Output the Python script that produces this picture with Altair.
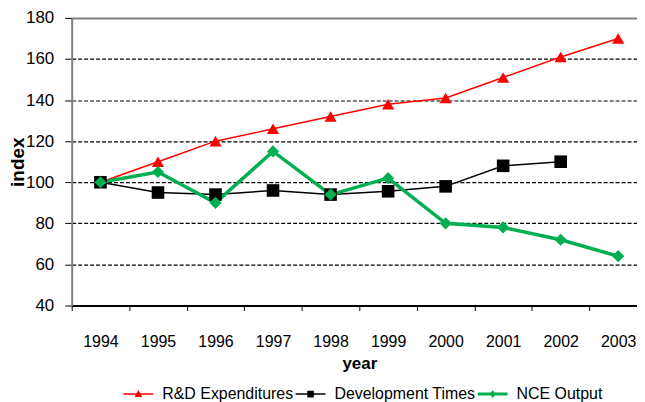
import altair as alt
import pandas as pd

years = [1994, 1995, 1996, 1997, 1998, 1999, 2000, 2001, 2002, 2003]
rd_values = [100, 110, 120, 126, 132, 138, 141, 151, 161, 170]
dev_values = [100, 95, 94, 96, 94, 95.6, 98, 108, 110, None]
nce_values = [100, 105, 90, 115, 94, 102, 80, 78, 72, 64]
series_names = ["R&D Expenditures", "Development Times", "NCE Output"]
series_colors = ["#FF0000", "#000000", "#00B050"]
y_ticks = [40, 60, 80, 100, 120, 140, 160, 180]

rows = []
for name, vals in zip(series_names, [rd_values, dev_values, nce_values]):
    for yr, v in zip(years, vals):
        if v is not None:
            rows.append({"year": yr, "value": v, "series": name})
df = pd.DataFrame(rows)

FONT = "Liberation Sans"

x_enc = alt.X(
    "year:O",
    bandPosition=0.5,
    scale=alt.Scale(type="band", paddingInner=0, paddingOuter=0),
    axis=alt.Axis(
        title="year", titleFontSize=17, titleFontWeight="bold", titleFont=FONT,
        titlePadding=6, labelFont=FONT, labelFontSize=16, labelAngle=0,
        labelPadding=23, tickSize=5, tickColor="black", tickBand="extent",
        domainColor="black", domainWidth=2, grid=False, labelColor="black",
    ),
)
y_enc = alt.Y(
    "value:Q",
    scale=alt.Scale(domain=[40, 180], nice=False, zero=False),
    axis=alt.Axis(
        title="index", titleFontSize=19, titleFontWeight="bold", titleFont=FONT,
        titlePadding=-2, labelFont=FONT, labelFontSize=17, labelPadding=11,
        values=y_ticks, tickSize=7, tickColor="black", domainColor="#808080",
        domainWidth=2, labelColor="black",
        grid=True,
        gridColor={"condition": {"test": "datum.value === 180", "value": "#808080"}, "value": "black"},
        gridDash={"condition": {"test": "datum.value === 180", "value": []}, "value": [4, 2]},
        gridWidth={"condition": {"test": "datum.value === 180", "value": 2}, "value": 1.2},
    ),
)

base = alt.Chart(df)

styles = [
    ("R&D Expenditures", "#FF0000", 1.5, "triangle-up", 150),
    ("Development Times", "#000000", 1.5, "square", 160),
    ("NCE Output", "#00B050", 3.5, "diamond", 150),
]

layers = []
for name, col, sw, shp, sz in styles:
    sub = base.transform_filter(alt.datum.series == name)
    layers.append(sub.mark_line(color=col, strokeWidth=sw).encode(x=x_enc, y=y_enc))
for name, col, sw, shp, sz in styles:
    sub = base.transform_filter(alt.datum.series == name)
    layers.append(sub.mark_point(shape=shp, filled=True, size=sz, color=col, opacity=1).encode(x=x_enc, y=y_enc))

legend_paths = [
    "M-5,-0.25 L5,-0.25 L5,0.25 L-5,0.25 Z M0,-1.4 L1.3,1 L-1.3,1 Z",
    "M-5,-0.25 L5,-0.25 L5,0.25 L-5,0.25 Z M-1.1,-1.1 L1.1,-1.1 L1.1,1.1 L-1.1,1.1 Z",
    "M-5,-0.5 L5,-0.5 L5,0.5 L-5,0.5 Z M0,-1.3 L1.1,0 L0,1.3 L-1.1,0 Z",
]
leg = alt.Legend(
    orient="none", legendX=59, legendY=370, direction="horizontal", title=None,
    labelFont=FONT, labelFontSize=16, labelColor="black", labelLimit=300,
    symbolSize=36, symbolStrokeWidth=0, labelOffset=16, columnPadding=2, padding=0,
)
legend_layer = base.transform_filter("datum.value < 0").mark_point(filled=True, opacity=1).encode(
    x=x_enc, y=y_enc,
    color=alt.Color("series:N", scale=alt.Scale(domain=series_names, range=series_colors), legend=leg),
    shape=alt.Shape("series:N", scale=alt.Scale(domain=series_names, range=legend_paths), legend=leg),
)
layers.append(legend_layer)

chart = alt.layer(*layers).properties(
    width=578, height=289,
    padding={"left": 0, "top": 0, "right": -11, "bottom": 0},
).configure_view(stroke=None).configure(background="white")

chart.save("out.html", embed_options={"renderer": "svg", "actions": False})
